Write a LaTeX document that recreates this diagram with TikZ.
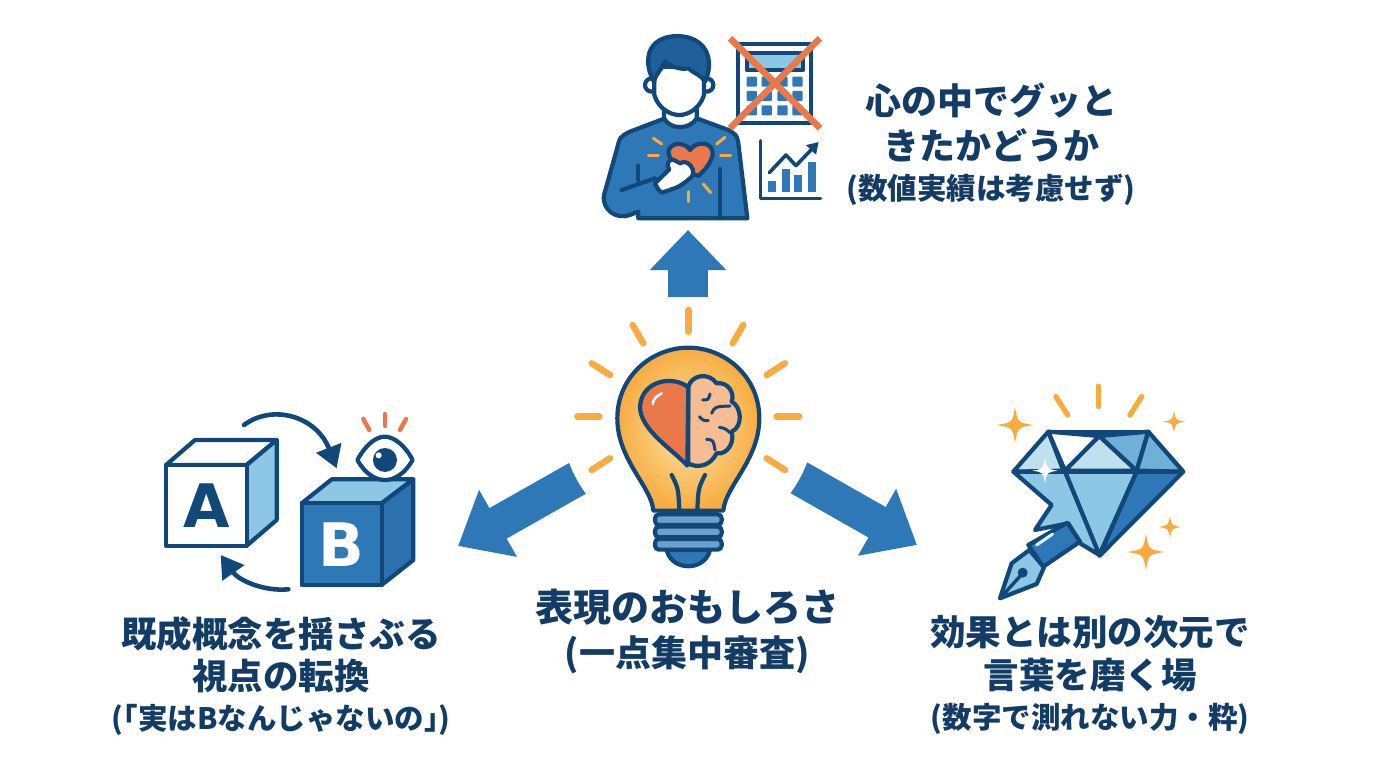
\documentclass[tikz,border=0pt]{standalone}
\usepackage{fontspec}
\setmainfont{Noto Sans CJK JP}
\newfontfamily\latinbold{DejaVu Sans}
\usetikzlibrary{calc,positioning,arrows.meta}

\definecolor{navy}{HTML}{12477A}
\definecolor{ink}{HTML}{123C66}
\definecolor{midblue}{HTML}{2F78B7}
\definecolor{hairblue}{HTML}{1F5F9C}
\definecolor{skyblue}{HTML}{8CC8E6}
\definecolor{paleblue}{HTML}{BFE0EE}
\definecolor{coral}{HTML}{E9784A}
\definecolor{amber}{HTML}{F7AC42}
\definecolor{bulbpale}{HTML}{FDE5A6}
\definecolor{peach}{HTML}{F6BC92}

\begin{document}
\begin{tikzpicture}[x=1pt, y=-1pt, line join=round, line cap=round,
    bigarrow/.style={line cap=butt, color=midblue},
    outline/.style={draw=navy, line width=4.2pt},
    ray/.style={draw=amber, line width=3pt},
    bigray/.style={draw=amber, line width=6.5pt},
    caption/.style={align=center, text=ink, inner sep=0pt, font=\fontsize{36}{45}\selectfont\bfseries}]
    \useasboundingbox (0,0) rectangle (1376,768);

    % arrows out of the bulb
    \coordinate (bulb) at (688,418);
    \coordinate (leftfoot) at (640,443);
    \coordinate (lefttip) at (458,546);
    \coordinate (rightfoot) at (736,442);
    \coordinate (righttip) at (917,545);
    \coordinate (upfoot) at (688,297);
    \coordinate (uptip) at (688,230);
    \draw[bigarrow, line width=35pt, -{Triangle[length=46pt,width=74pt]}] (leftfoot) -- (lefttip);
    \draw[bigarrow, line width=35pt, -{Triangle[length=46pt,width=74pt]}] (rightfoot) -- (righttip);
    \node[circle, fill=white, minimum size=254pt, inner sep=0pt] (halo) at (bulb) {};
    \draw[bigarrow, line width=40pt, -{Triangle[length=40pt,width=74pt]}] (upfoot) -- (uptip);

    % person with calculator and chart
    \begin{scope}[shift={(590,20)}, x=0.3333pt, y=-0.3333pt]
        \filldraw[outline, fill=midblue] (225,295) -- (120,335) .. controls (90,350) .. (80,390) -- (42,525)
            .. controls (35,570) and (80,600) .. (120,585) -- (145,575) -- (145,595) -- (472,595)
            -- (445,370) .. controls (440,345) .. (415,330) -- (320,295) -- cycle;
        \draw[outline] (145,437) -- (145,480);
        \draw[outline] (95,510) -- (195,475);
        \draw[outline] (390,447) -- (390,595);
        \filldraw[outline, fill=coral] (325,468) .. controls (280,450) and (235,425) .. (235,395)
            .. controls (240,365) and (285,365) .. (300,390) .. controls (320,360) and (372,365) .. (368,405)
            .. controls (362,430) and (345,450) .. (325,468) -- cycle;
        \filldraw[outline, fill=white] (215,518) .. controls (205,510) .. (195,490) -- (238,448)
            .. controls (225,430) and (240,415) .. (252,420) -- (270,430) .. controls (285,420) and (300,430) .. (308,447)
            .. controls (310,465) .. (300,475) .. controls (270,500) .. (215,518) -- cycle;
        \filldraw[outline, fill=white] (222,265) -- (222,295) .. controls (240,330) and (300,330) .. (320,295) -- (320,265) -- cycle;
        \filldraw[outline, fill=white] (185,195) circle (20);
        \filldraw[outline, fill=white] (350,195) circle (20);
        \filldraw[outline, fill=white] (193,140) -- (193,225) .. controls (205,265) and (240,285) .. (268,285)
            .. controls (295,285) and (330,265) .. (342,225) -- (342,140) -- cycle;
        \filldraw[outline, fill=hairblue] (192,185) .. controls (160,130) and (165,50) .. (262,48)
            .. controls (350,50) and (375,120) .. (345,185) .. controls (335,165) and (310,160) .. (295,145)
            .. controls (270,150) and (245,140) .. (225,125) .. controls (215,150) and (200,155) .. (192,185) -- cycle;
        \foreach \rx/\ry/\qx/\qy in {190/355/215/372, 380/372/405/352, 175/408/205/408, 392/408/422/408, 340/492/362/518, 296/515/296/545}
            \draw[ray] (\rx,\ry) -- (\qx,\qy);
        % calculator
        \filldraw[outline, fill=white] (445,72) rectangle (662,308);
        \filldraw[outline, fill=skyblue] (470,100) rectangle (640,150);
        \foreach \bx in {470,515,562,607}
            \foreach \by in {170,213,256}
                \fill[midblue, rounded corners=1pt] (\bx,\by) rectangle (\bx+31,\by+30);
        \draw[coral, line width=6.5pt, line cap=butt] (420,55) -- (690,325);
        \draw[coral, line width=6.5pt, line cap=butt] (690,55) -- (420,325);
        % chart
        \foreach \bx/\by in {535/483, 575/448, 612/465, 655/425}
            \fill[midblue] (\bx,\by) rectangle (\bx+24,515);
        \draw[navy, line width=3.4pt] (512,362) -- (512,535) -- (692,535);
        \coordinate (chartstart) at (538,458);
        \coordinate (chartend) at (686,366);
        \draw[navy, line width=3.6pt, -{Triangle[length=11pt,width=13pt]}] (chartstart) -- (588,405) -- (618,437) -- (chartend);
    \end{scope}

    % bulb
    \begin{scope}[shift={(560,300)}, x=0.3333pt, y=-0.3333pt]
        \foreach \rx/\ry/\qx/\qy in {385/30/385/95, 218/75/250/130, 95/190/150/225, 52/350/118/350, 95/510/150/475,
            550/75/518/130, 675/190/620/225, 718/350/650/350, 675/510/620/475}
            \draw[bigray] (\rx,\ry) -- (\qx,\qy);
        \filldraw[outline, inner color=bulbpale, outer color=amber] (280,632) .. controls (275,560) and (172,480) .. (172,355)
            .. controls (172,230) and (275,143) .. (385,143) .. controls (495,143) and (598,230) .. (598,355)
            .. controls (598,480) and (495,560) .. (490,632) -- cycle;
        \draw[outline] (335,525) .. controls (355,565) .. (358,632);
        \draw[outline] (435,525) .. controls (415,565) .. (412,632);
        \filldraw[outline, fill=midblue] (320,750) .. controls (335,815) and (435,815) .. (450,750) -- cycle;
        \foreach \by in {643,680,717}
            \filldraw[outline, fill=midblue!70!white, rounded corners=4pt] (285,\by) rectangle (485,\by+32);
        \filldraw[outline, fill=peach] (385,260) .. controls (395,225) and (445,215) .. (470,250)
            .. controls (505,245) and (525,280) .. (515,305) .. controls (545,320) and (550,380) .. (515,395)
            .. controls (525,430) and (500,465) .. (470,460) .. controls (450,500) and (410,505) .. (385,490) -- cycle;
        \filldraw[outline, fill=coral] (385,262) .. controls (340,225) and (245,240) .. (240,320)
            .. controls (240,390) and (340,450) .. (382,497) -- cycle;
        \draw[white, line width=2.5pt] (278,312) .. controls (282,295) .. (305,280);
        \draw[navy, line width=3pt] (428,300) .. controls (445,300) .. (450,282);
        \draw[navy, line width=3pt] (455,340) .. controls (465,320) .. (510,318);
        \draw[navy, line width=3pt] (418,350) .. controls (430,362) .. (445,362);
        \draw[navy, line width=3pt] (478,382) .. controls (495,385) .. (510,398);
        \draw[navy, line width=3pt] (440,418) .. controls (460,420) .. (465,450);
    \end{scope}

    % cubes
    \begin{scope}[shift={(150,400)}, x=0.3333pt, y=-0.3333pt]
        \filldraw[outline, fill=white] (48,195) -- (135,120) -- (380,120) -- (290,195) -- cycle;
        \filldraw[outline, fill=skyblue] (290,195) -- (380,120) -- (380,360) -- (290,437) -- cycle;
        \filldraw[outline, fill=white] (48,195) rectangle (290,437);
        \node[text=navy, inner sep=0pt, font=\fontsize{60}{60}\selectfont\latinbold\bfseries] (letterA) at (169,316) {A};
        \filldraw[outline, fill=skyblue] (455,310) -- (545,238) -- (790,238) -- (695,310) -- cycle;
        \filldraw[outline, fill=midblue!85!navy] (695,310) -- (790,238) -- (790,480) -- (695,555) -- cycle;
        \filldraw[outline, fill=midblue] (455,310) rectangle (695,555);
        \node[text=white, inner sep=0pt, font=\fontsize{60}{60}\selectfont\latinbold\bfseries] (letterB) at (575,433) {B};
        \filldraw[outline, fill=white] (622,180) .. controls (650,130) and (680,110) .. (705,110)
            .. controls (730,110) and (765,135) .. (788,180) .. controls (765,220) and (735,240) .. (705,240)
            .. controls (675,240) and (645,220) .. (622,180) -- cycle;
        \fill[navy] (705,180) circle (36);
        \fill[white] (686,166) circle (9);
        \foreach \rx/\ry/\qx/\qy in {640/57/658/90, 705/42/705/78, 768/57/750/90}
            \draw[coral, line width=4.4pt] (\rx,\ry) -- (\qx,\qy);
        \coordinate (swapstart) at (282,75);
        \coordinate (swapend) at (560,205);
        \coordinate (backstart) at (415,568);
        \coordinate (backend) at (212,465);
        \draw[navy, line width=4.6pt, -{Triangle[length=22pt,width=26pt]}] (swapstart) .. controls (370,10) and (500,50) .. (swapend);
        \draw[navy, line width=4.6pt, -{Triangle[length=22pt,width=26pt]}] (backstart) .. controls (340,575) and (265,540) .. (backend);
    \end{scope}

    % diamond and pen
    \begin{scope}[shift={(980,380)}, x=0.3333pt, y=-0.3333pt]
        \foreach \rx/\ry/\qx/\qy in {228/50/263/105, 355/18/355/80, 485/50/450/105}
            \draw[draw=amber, line width=5.4pt] (\rx,\ry) -- (\qx,\qy);
        \filldraw[outline, fill=paleblue] (205,155) -- (100,275) -- (250,272) -- cycle;
        \filldraw[outline, fill=white] (205,155) -- (358,168) -- (255,272) -- cycle;
        \filldraw[outline, fill=paleblue] (358,168) -- (255,272) -- (470,272) -- cycle;
        \filldraw[outline, fill=skyblue!70!midblue] (358,168) -- (505,155) -- (470,272) -- cycle;
        \filldraw[outline, fill=skyblue!70!midblue] (505,155) -- (610,275) -- (470,272) -- cycle;
        \draw[outline] (205,155) -- (505,155);
        \filldraw[outline, fill=skyblue] (255,275) -- (470,275) -- (358,525) -- cycle;
        \filldraw[outline, fill=midblue] (470,275) -- (610,275) -- (358,528) -- cycle;
        \filldraw[outline, fill=skyblue] (100,275) -- (255,275) -- (358,525) -- (300,490) -- (265,430) -- (165,450) -- (215,375) -- cycle;
        \filldraw[outline, fill=skyblue] (148,510) -- (192,562) -- (170,612) -- (60,655) -- (95,550) -- cycle;
        \draw[navy, line width=3.4pt] (60,655) -- (128,580);
        \fill[navy] (128,578) circle (15);
        \filldraw[outline, fill=midblue] (145,495) -- (262,428) -- (300,485) -- (190,560) -- cycle;
        \draw[white!70!skyblue, line width=3pt] (170,495) -- (218,462);
        \foreach \sx/\sy/\sr/\scol in {105/135/55/amber, 582/125/34/amber, 570/441/34/amber, 498/516/56/amber, 195/272/38/white}
            \fill[\scol] (\sx,\sy-\sr) .. controls (\sx+0.14*\sr,\sy-0.14*\sr) .. (\sx+\sr,\sy)
                .. controls (\sx+0.14*\sr,\sy+0.14*\sr) .. (\sx,\sy+\sr)
                .. controls (\sx-0.14*\sr,\sy+0.14*\sr) .. (\sx-\sr,\sy)
                .. controls (\sx-0.14*\sr,\sy-0.14*\sr) .. (\sx,\sy-\sr) -- cycle;
    \end{scope}

    % texts
    \node[caption] (topline) at (991,144) {心の中でグッと\\きたかどうか\\[-5pt]{\fontsize{29.5}{34}\selectfont (数値実績は考慮せず)}};
    \node[caption] (midline) at (687,631) {{\fontsize{38}{48}\selectfont 表現のおもしろさ}\\{\fontsize{36}{44}\selectfont (一点集中審査)}};
    \node[caption, font=\fontsize{35.5}{42}\selectfont\bfseries] (leftline) at (281,676) {既成概念を揺さぶる\\視点の転換\\[-2pt]{\fontsize{29.5}{34}\selectfont\addfontfeatures{RawFeature=+halt}(「{\addfontfeatures{RawFeature=-halt}実はBなんじゃないの}」)}};
    \node[caption, font=\fontsize{35.5}{43}\selectfont\bfseries] (rightline) at (1090,675) {効果とは別の次元で\\言葉を磨く場\\[-3pt]{\fontsize{29.5}{34}\selectfont (数字で測れない力・粋)}};
\end{tikzpicture}
\end{document}
